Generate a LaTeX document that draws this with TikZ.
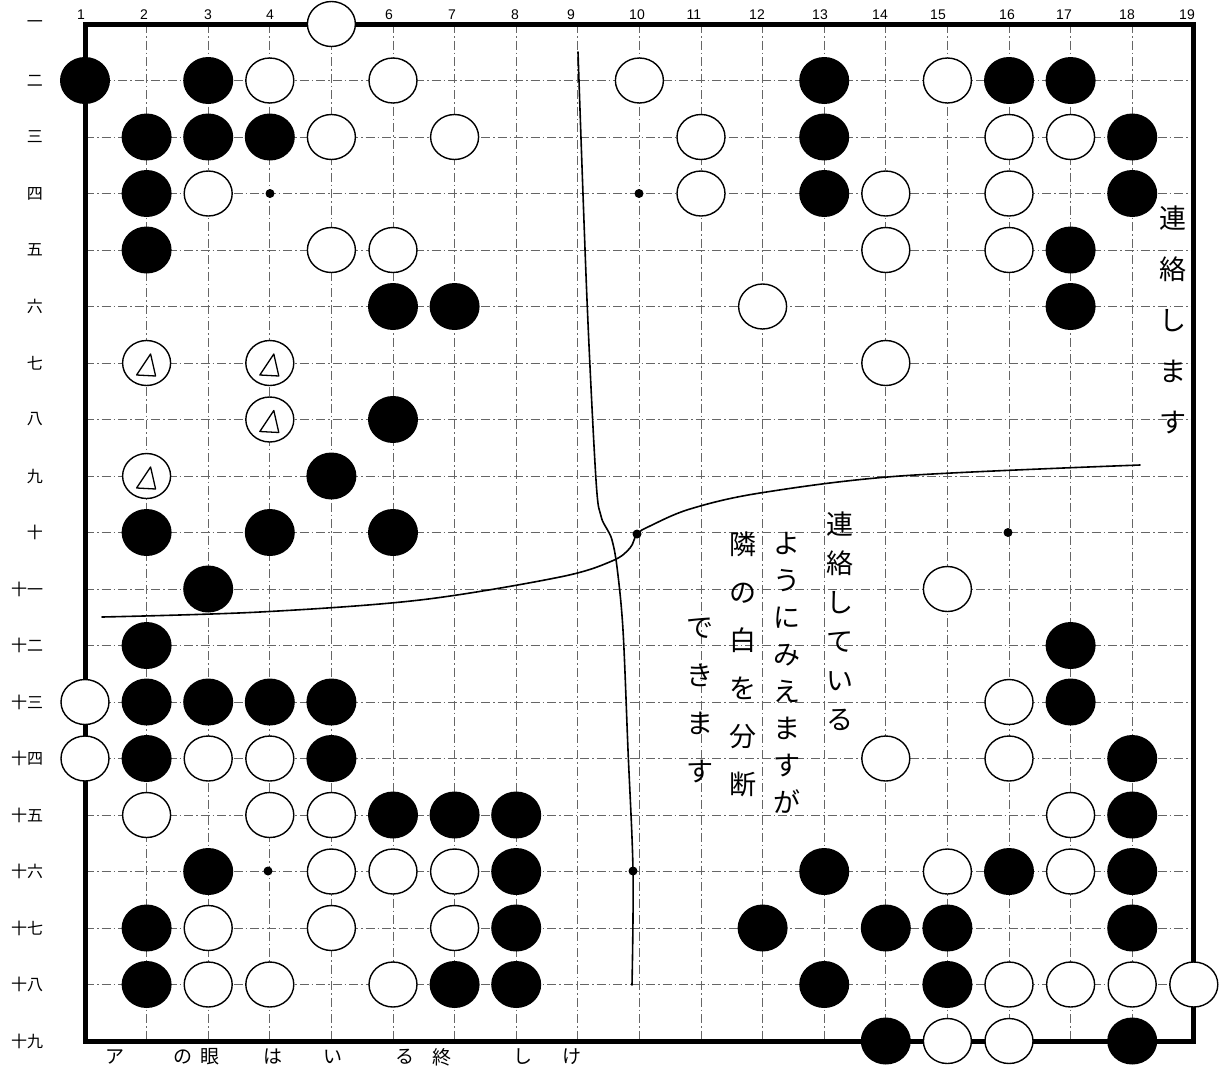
\documentclass[tikz,border=0pt]{standalone}
\usepackage{fontspec}
\setmainfont{Liberation Sans}
\newfontfamily\cjk{Noto Sans CJK JP}
\usetikzlibrary{shapes.geometric}
\tikzset{
  bstone/.style={ellipse, fill=black, minimum width=50pt, minimum height=47pt, inner sep=0pt},
  wstone/.style={ellipse, draw=black, line width=1.4pt, fill=white, minimum width=48pt, minimum height=45pt, inner sep=0pt},
  gridline/.style={line width=0.8pt, black!60, dash pattern=on 9pt off 3pt on 1.5pt off 3pt},
  starpt/.style={circle, fill=black, minimum size=9pt, inner sep=0pt},
  collab/.style={font=\fontsize{14}{14}\selectfont, inner sep=0pt},
  rowlab/.style={font=\cjk\fontsize{16}{16}\selectfont, inner sep=0pt},
  hand/.style={font=\cjk\fontsize{27}{#1}\selectfont, align=center, anchor=north, inner sep=0pt},
  frag/.style={font=\cjk\fontsize{19}{19}\selectfont, inner sep=0pt},
  curveline/.style={line width=1.6pt, line cap=round},
  trimark/.style={line width=1.3pt, line join=round},
}
\begin{document}
\begin{tikzpicture}[x=1pt,y=-1pt]
\useasboundingbox (0,0) rectangle (1226,1069);
\fill[white] (0,0) rectangle (1226,1069);
% grid
\foreach \c in {2,...,18}
  \draw[gridline] ({85+(\c-1)*61.6},24) -- ({85+(\c-1)*61.6},1041);
\foreach \r in {2,...,18}
  \draw[gridline] (85,{24+(\r-1)*56.5}) -- (1193,{24+(\r-1)*56.5});
% border
\draw[line width=5pt] (85,24) rectangle (1193,1041);
% column labels
\foreach \c/\x in {1/81,2/144,3/208,4/270,6/389,7/452,8/515,9/571,10/637,11/694,12/757,13/820,14/880,15/938,16/1007,17/1064,18/1127,19/1187}
  \node[collab] (c\c) at (\x,15) {\c};
% row labels
\foreach \r/\t in {1/一,2/二,3/三,4/四,5/五,6/六,7/七,8/八,9/九,10/十}
  \node[rowlab] (r\r) at (35,{24+(\r-1)*56.5}) {\t};
\foreach \r/\t in {11/十一,12/十二,13/十三,14/十四,15/十五,16/十六,17/十七,18/十八,19/十九}
  \node[rowlab] (r\r) at (27,{24+(\r-1)*56.5}) {\t};
% star points
\node[starpt] (s1) at (270,193.5) {};
\node[starpt] (s2) at (639,193.5) {};
\node[starpt] (s4) at (1008,532.5) {};
\node[starpt] (s5) at (268,871) {};
% black stones
\foreach \c/\r in {1/2,3/2,13/2,16/2,17/2, 2/3,3/3,4/3,13/3,18/3, 2/4,13/4,18/4, 2/5,17/5, 6/6,7/6,17/6, 6/8, 5/9, 2/10,4/10,6/10, 3/11, 2/12,17/12, 2/13,3/13,4/13,5/13,17/13, 2/14,5/14,18/14, 6/15,7/15,8/15,18/15, 3/16,8/16,13/16,16/16,18/16, 2/17,8/17,12/17,14/17,15/17,18/17, 2/18,7/18,8/18,13/18,15/18, 14/19,18/19}
  \node[bstone] (b-\c-\r) at ({85+(\c-1)*61.6},{24+(\r-1)*56.5}) {};
% white stones
\foreach \c/\r in {5/1, 4/2,6/2,10/2,15/2, 5/3,7/3,11/3,16/3,17/3, 3/4,11/4,14/4,16/4, 5/5,6/5,14/5,16/5, 12/6, 2/7,4/7,14/7, 4/8, 2/9, 15/11, 1/13,16/13, 1/14,3/14,4/14,14/14,16/14, 2/15,4/15,5/15,17/15, 5/16,6/16,7/16,15/16,17/16, 3/17,5/17,7/17, 3/18,4/18,6/18,16/18,17/18,18/18,19/18, 15/19,16/19}
  \node[wstone] (w-\c-\r) at ({85+(\c-1)*61.6},{24+(\r-1)*56.5}) {};
% triangle marks
\foreach \n in {w-2-7,w-4-7,w-4-8,w-2-9}
  \draw[trimark] ([shift={(-10,12)}]\n.center) -- ([shift={(9,13)}]\n.center) -- ([shift={(4,-9)}]\n.center) -- cycle;
% curves
\node[starpt] (s3) at (637,534) {};
\node[starpt] (s6) at (633,871) {};
\coordinate (vtop) at (578,52);
\coordinate (vbot) at (632,985);
\coordinate (hleft) at (102,617);
\coordinate (hright) at (1140,465);
\draw[curveline] plot[smooth, tension=0.55] coordinates {(vtop) (587,300) (596,480) (601,516) (607,529) (612,540) (617,567) (623,630) (628,750) (s6) (vbot)};
\draw[curveline] plot[smooth, tension=0.55] coordinates {(hleft) (260,612) (420,600) (560,577) (612,561) (630,548) (s3) (650,526) (690,509) (760,493) (900,476) (hright)};
% handwritten notes
\node[hand=39] (n1) at (840,512) {連\\絡\\し\\て\\い\\る};
\node[hand=37] (n2) at (787,532) {よ\\う\\に\\み\\え\\ま\\す\\が};
\node[hand=48] (n3) at (743,532) {隣\\の\\白\\を\\分\\断};
\node[hand=48] (n4) at (700,618) {で\\き\\ま\\す};
\node[hand=51] (n5) at (1173,206) {連\\絡\\し\\ま\\す};
% text along the bottom edge
\foreach \x/\t [count=\i] in {115/ア,183/の,210/眼,273/は,333/い,405/る,442/終,523/し,572/け}
  \node[frag] (f\i) at (\x,1057) {\t};
\end{tikzpicture}
\end{document}
